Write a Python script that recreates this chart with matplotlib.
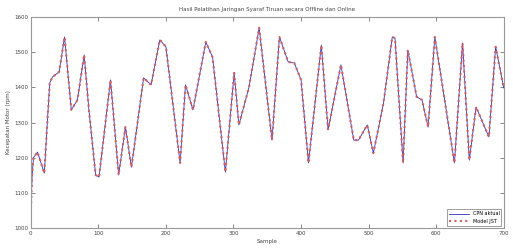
import matplotlib.pyplot as plt
from matplotlib import rcParams as rc
import numpy as np

# sample index and motor speed
sample = [0, 2, 4, 10, 20, 28, 32, 42, 50, 60, 69, 79, 86, 96, 101, 118, 130, 140, 149,
          167, 178, 191, 200, 221, 229, 240, 259, 269, 288, 301, 308, 323, 338, 357,
          368, 381, 390, 400, 411, 430, 440, 459, 478, 485, 498, 507, 522, 535, 539,
          551, 558, 571, 579, 588, 598, 627, 639, 649, 659, 678, 688, 700]
speed = [1040, 1150, 1200, 1216, 1156, 1412, 1429, 1444, 1543, 1336, 1364, 1492, 1336,
         1151, 1145, 1421, 1151, 1287, 1173, 1427, 1407, 1535, 1515, 1185, 1407, 1336,
         1529, 1486, 1159, 1441, 1293, 1401, 1569, 1250, 1543, 1472, 1469, 1421, 1185,
         1520, 1279, 1464, 1250, 1250, 1293, 1213, 1355, 1543, 1540, 1185, 1506, 1373,
         1364, 1287, 1543, 1185, 1526, 1193, 1344, 1259, 1515, 1398]

xticks = [0, 100, 200, 300, 400, 500, 600, 700]
yticks = [1000, 1100, 1200, 1300, 1400, 1500, 1600]

rc['font.size'] = 4
rc['font.family'] = 'DejaVu Sans'

fig = plt.figure(figsize=(5.13, 2.49), dpi=100)
ax = fig.add_axes([0.060, 0.084, 0.922, 0.848])

ax.plot(sample, speed, color='#3030c0', lw=0.6, label='CPN aktual')
ax.plot(sample, speed, color='#d06060', lw=1.5, ls=(0, (1, 1.6)), label='Model JST')

ax.set_xlim(0, 700)
ax.set_ylim(1000, 1600)
ax.set_xticks(xticks)
ax.set_yticks(yticks)
ax.tick_params(direction='in', length=3, width=0.5, colors='#555555', labelcolor='#444444',
               top=True, right=True, pad=2)
for s in ax.spines.values():
    s.set_color('#999999')
    s.set_linewidth(0.8)

ax.set_title('Hasil Pelatihan Jaringan Syaraf Tiruan secara Offline dan Online',
             fontsize=4, color='#444444', pad=4)
ax.set_xlabel('Sample', color='#444444', labelpad=2)
ax.set_ylabel('Kecepatan Motor (rpm)', color='#444444', labelpad=2)

leg = ax.legend(loc='lower right', fontsize=3.5, fancybox=False, framealpha=1,
                edgecolor='#777777', handlelength=4)
leg.get_frame().set_linewidth(0.5)

plt.savefig('out.png', dpi=100)
